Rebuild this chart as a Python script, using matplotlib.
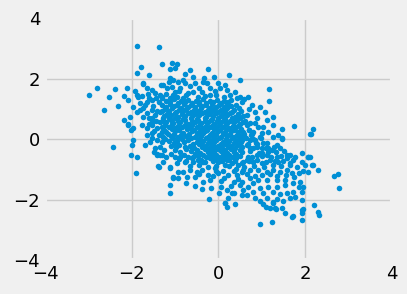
import numpy as np
import matplotlib
matplotlib.use('Agg')
import matplotlib.pyplot as plt

plt.style.use('fivethirtyeight')

# points, grouped by region (x, y)
edge_pts = [(-2.98, 1.45), (-2.79, 1.69), (-2.63, 0.97), (-2.52, 1.39), (-2.38, 1.65), (-2.31, 1.09),
            (-2.42, -0.25), (-2.10, 1.69), (-2.17, 0.64), (-2.09, 1.30), (-2.09, 0.51), (-2.02, 0.31),
            (-2.00, -0.20), (-1.98, -0.02), (-2.02, -0.53), (-1.88, -0.60), (-1.90, -1.12), (-1.87, 3.07),
            (-1.36, 3.04), (-1.88, 2.18), (-1.78, 2.40), (-1.59, 2.14), (-1.29, 2.48), (-1.06, 2.51),
            (-0.95, 2.48), (-1.92, 1.58), (-1.73, 1.85), (-1.11, -1.51), (-1.11, -1.79), (-1.39, -0.88),
            (-1.42, -0.48), (-1.12, -0.93), (-1.05, -1.23), (-0.92, -1.29), (-0.75, -1.45), (-0.55, -1.54),
            (-0.36, -1.40), (-0.18, -1.62), (-0.21, -1.98), (0.02, -1.79), (0.16, -2.09), (0.21, -2.25),
            (0.39, -2.14), (0.35, -1.76), (0.54, -1.84), (0.97, -2.80), (1.23, -2.74), (1.10, -2.23),
            (1.27, -2.09), (1.32, -2.31), (1.53, -2.45), (1.70, -2.56), (1.92, -2.67), (1.94, -2.45),
            (1.95, -2.30), (2.21, -2.17), (2.29, -2.40), (2.33, -2.50), (2.68, -1.21), (2.75, -1.15),
            (2.78, -1.62), (2.29, -1.01), (2.18, -0.85), (2.06, -0.60), (1.92, -0.46), (2.12, 0.18),
            (2.18, 0.34), (1.75, 0.44), (1.18, 1.65), (1.18, 1.28), (1.27, 0.73), (0.25, 2.13),
            (0.50, 1.96), (-0.25, 2.31), (-0.09, 2.07), (1.47, 0.00), (1.65, -0.52)]

upper_pts = [(-2.17, 1.42), (-1.88, 1.45), (-1.74, 1.82), (-1.65, 1.69), (-1.54, 1.63), (-1.46, 1.52),
             (-1.32, 1.80), (-1.35, 1.46), (-1.77, 1.43), (-1.59, 1.36), (-1.11, 2.32), (-1.00, 2.35),
             (-0.65, 2.29), (-0.77, 2.15), (-0.58, 2.07), (-0.32, 2.02), (-1.11, 2.02), (-1.04, 1.96),
             (-0.92, 1.90), (-0.82, 1.96), (-0.77, 1.85), (-0.54, 1.85), (-0.27, 1.85), (0.00, 1.85),
             (0.04, 1.69), (-0.08, 1.60), (-1.27, 1.80), (-1.19, 1.69), (-1.08, 1.74), (-1.00, 1.57),
             (-0.88, 1.69), (-0.96, 1.41), (-0.69, 1.52), (-0.58, 1.57), (-0.38, 1.55), (0.39, 1.55),
             (0.50, 1.41), (0.27, 1.46), (0.12, 1.41), (-0.19, 1.46), (-0.46, 1.41), (-0.81, 1.36),
             (-1.11, 1.36), (-1.31, 1.41), (0.69, 1.39), (0.59, 1.33), (-1.96, 1.08), (-2.04, 0.75),
             (-2.08, 0.47), (-1.98, 0.36), (-1.69, -0.19), (-1.58, -0.08), (-1.35, -0.24), (-1.48, -0.43),
             (-1.35, -0.52), (-1.88, 0.91), (-1.81, 0.97), (-1.73, 1.02), (-1.65, 0.86), (-1.54, 0.97),
             (-1.46, 0.80), (-1.35, 0.91), (-1.27, 0.69), (-1.61, 0.69), (-1.77, 0.47), (-1.65, 0.36),
             (-1.54, 0.47), (-1.42, 0.36), (-1.31, 0.42), (-1.54, 0.20), (-1.38, 0.14), (-1.27, 0.09),
             (-1.65, 0.14), (-1.81, 1.19), (-1.65, 1.24), (-1.54, 1.30), (-1.38, 1.24), (-1.31, 1.36),
             (-1.85, 1.41), (-1.54, 0.58), (-1.35, 0.58), (-1.42, -0.02), (-1.46, -0.30),
             (-1.5, 1.1), (-1.42, 0.95), (-1.52, 0.72), (-1.45, 0.6), (-1.6, 0.5), (-1.48, 0.28),
             (-1.3, 0.25), (-1.52, 0.05), (-1.3, -0.1), (-1.62, 1.5), (-1.45, 1.38), (-1.7, 1.12),
             (-1.75, 0.75), (-1.2, 1.5), (-1.05, 1.48), (-0.75, 1.45), (-0.3, 1.42), (-1.25, -0.35),
             (-1.2, -0.6), (-1.0, -0.6),
             (-0.45, 1.7), (-0.2, 1.68), (0.2, 1.62), (-0.65, 1.75), (-0.35, 1.88), (-1.15, 1.88),
             (0.15, 1.8), (-0.9, 1.6), (0.42, 1.35), (-0.05, 1.45)]

right_pts = [(0.54, 1.24), (0.77, 1.13), (0.96, 1.08), (1.08, 0.91), (1.12, 0.64), (1.04, 0.42),
             (1.27, 0.47), (1.46, 0.34), (2.14, 0.17), (1.38, 0.14), (1.46, 0.03), (1.27, 0.09),
             (1.15, 0.25), (0.92, 0.42), (0.89, 0.69), (0.65, 0.80), (0.58, 0.58), (0.73, 0.53),
             (0.58, 0.25), (0.81, 0.25), (0.96, 0.09), (0.73, -0.02), (1.12, -0.13), (1.35, -0.19),
             (1.42, -0.30), (1.23, -0.35), (1.00, -0.30), (0.81, -0.30), (0.65, -0.19), (1.58, -0.52),
             (1.77, -0.58), (2.08, -0.58), (1.35, -0.58), (1.12, -0.52), (0.89, -0.52), (0.69, -0.58),
             (0.85, -0.02), (0.7, 1.0), (0.85, 0.9), (0.7, 0.3), (0.85, 0.55), (1.0, 0.2),
             (1.15, -0.3), (1.0, -0.45), (0.6, 0.1), (0.75, 0.15), (0.9, -0.15)]

lower_left_pts = [(-1.42, -0.52), (-1.31, -0.52), (-1.38, -0.91), (-1.11, -0.96), (-1.04, -1.27),
                  (-0.92, -1.07), (-0.81, -1.07), (-0.19, -1.35), (-0.23, -1.18), (-0.73, -1.24),
                  (-0.65, -1.01), (-0.50, -1.07), (-0.38, -1.01), (-1.27, -0.74), (-0.96, -0.79),
                  (-0.77, -0.74), (-0.58, -0.74), (-0.35, -0.74), (-0.88, -0.58), (-0.58, -0.58),
                  (-0.08, -0.96), (0.12, -1.29), (0.19, -1.68), (0.23, -1.93), (0.15, -2.12),
                  (0.31, -1.79), (0.50, -1.51), (0.35, -1.40), (0.23, -1.18), (0.42, -1.18),
                  (0.54, -1.07), (0.00, -0.74), (0.15, -0.85), (0.31, -0.79), (0.46, -0.85),
                  (0.58, -0.74), (0.06, -1.57), (-0.38, -1.64),
                  (-0.12, -1.2), (0.05, -1.38), (0.3, -1.55), (-0.05, -1.05), (0.4, -0.98),
                  (-0.55, -1.25), (0.1, -1.05), (0.45, -1.32)]

lower_right_pts = [(0.54, -0.79), (0.58, -1.01), (0.54, -1.40), (0.58, -1.68), (0.67, -1.84), (0.81, -1.73),
                   (0.81, -1.45), (0.69, -1.57), (0.85, -1.95), (0.96, -2.04), (1.04, -2.15), (1.12, -1.95),
                   (1.19, -2.26), (1.27, -2.06), (1.31, -2.28), (1.46, -2.28), (1.72, -2.54), (1.92, -2.34),
                   (1.35, -1.98), (1.50, -2.03), (1.65, -1.95), (1.77, -1.90), (1.92, -2.01), (1.94, -1.75),
                   (1.85, -1.57), (1.96, -1.57), (1.73, -1.73), (1.58, -1.79), (1.42, -1.82), (1.27, -1.73),
                   (1.04, -1.79), (0.96, -1.62), (1.15, -1.57), (1.35, -1.57), (1.54, -1.51), (1.73, -1.45),
                   (1.88, -1.40), (1.54, -1.35), (1.35, -1.35), (1.12, -1.35), (0.92, -1.35), (0.73, -1.29),
                   (2.08, -1.07), (1.96, -1.05), (2.15, -0.85), (2.00, -0.85), (1.81, -0.91), (1.85, -1.12),
                   (1.69, -1.12), (1.58, -1.01), (1.42, -1.07), (1.27, -1.01), (1.12, -1.07), (0.92, -1.01),
                   (0.73, -1.01), (1.92, -0.74), (1.73, -0.68), (1.58, -0.63), (1.38, -0.74), (1.19, -0.68),
                   (1.00, -0.79), (0.81, -0.74), (0.65, -0.68), (2.12, -0.58)]

core_pts = [(-1.2, 1.28), (-1.02, 1.33), (-0.86, 1.27), (-0.7, 1.31), (-0.52, 1.26), (-0.36, 1.32),
            (-0.2, 1.27), (-0.04, 1.3), (0.12, 1.25), (0.3, 1.29),
            (-1.3, 1.14), (-1.12, 1.17), (-0.95, 1.12), (-0.79, 1.16), (-0.62, 1.13), (-0.45, 1.18),
            (-0.29, 1.12), (-0.14, 1.16), (0.02, 1.13), (0.2, 1.17), (0.4, 1.12),
            (-1.24, 0.99), (-1.06, 1.02), (-0.9, 0.97), (-0.74, 1.01), (-0.56, 0.98), (-0.4, 1.03),
            (-0.24, 0.97), (-0.09, 1.01), (0.06, 0.98), (0.21, 1.02), (0.36, 0.97),
            (-1.19, 0.84), (-1.01, 0.87), (-0.85, 0.82), (-0.69, 0.86), (-0.54, 0.83), (-0.38, 0.88),
            (-0.21, 0.83), (-0.05, 0.86), (0.1, 0.82), (0.26, 0.87), (0.45, 0.84),
            (-1.15, 0.69), (-0.99, 0.72), (-0.81, 0.67), (-0.64, 0.71), (-0.49, 0.68), (-0.31, 0.72),
            (-0.15, 0.67), (0.0, 0.71), (0.15, 0.68), (0.31, 0.72), (0.5, 0.69),
            (-1.2, 0.56), (-1.04, 0.53), (-0.89, 0.57), (-0.71, 0.52), (-0.55, 0.57), (-0.4, 0.53),
            (-0.24, 0.56), (-0.1, 0.52), (0.05, 0.57), (0.2, 0.53), (0.35, 0.56), (0.5, 0.52),
            (-1.15, 0.41), (-0.99, 0.38), (-0.84, 0.42), (-0.66, 0.37), (-0.5, 0.41), (-0.35, 0.38),
            (-0.19, 0.42), (-0.05, 0.37), (0.1, 0.41), (0.25, 0.38), (0.41, 0.42),
            (-1.2, 0.24), (-1.0, 0.27), (-0.81, 0.22), (-0.6, 0.26), (-0.45, 0.23), (-0.3, 0.27),
            (-0.14, 0.22), (0.0, 0.26), (0.15, 0.23), (0.3, 0.27), (0.46, 0.24),
            (-1.1, 0.11), (-0.94, 0.08), (-0.75, 0.12), (-0.55, 0.07), (-0.4, 0.11), (-0.25, 0.08),
            (-0.1, 0.12), (0.05, 0.07), (0.2, 0.11), (0.35, 0.08), (0.5, 0.12),
            (-1.15, -0.04), (-0.95, -0.07), (-0.7, -0.03), (-0.5, -0.08), (-0.35, -0.04), (-0.2, -0.07),
            (-0.05, -0.03), (0.1, -0.08), (0.25, -0.04), (0.4, -0.07), (0.55, -0.03),
            (-1.1, -0.21), (-0.9, -0.18), (-0.65, -0.22), (-0.45, -0.17), (-0.3, -0.21), (-0.15, -0.18),
            (0.0, -0.22), (0.15, -0.17), (0.3, -0.21), (0.45, -0.18),
            (-1.0, -0.36), (-0.75, -0.33), (-0.5, -0.37), (-0.3, -0.32), (-0.15, -0.36), (0.0, -0.33),
            (0.15, -0.37), (0.3, -0.32), (0.5, -0.36),
            (-1.1, -0.49), (-0.8, -0.52), (-0.55, -0.47), (-0.35, -0.51), (-0.2, -0.48), (-0.05, -0.52),
            (0.1, -0.47), (0.25, -0.51), (0.4, -0.48),
            (-0.9, -0.66), (-0.6, -0.63), (-0.4, -0.67), (-0.2, -0.62), (-0.05, -0.66), (0.1, -0.63),
            (0.25, -0.67), (0.4, -0.62)]

# second, staggered layer of the dense middle
core2_pts = [(-1.11, 1.22), (-0.94, 1.2), (-0.78, 1.23), (-0.61, 1.21), (-0.44, 1.24), (-0.28, 1.2),
             (-0.12, 1.23), (0.05, 1.21), (0.22, 1.24),
             (-1.21, 1.06), (-1.03, 1.09), (-0.87, 1.05), (-0.7, 1.08), (-0.53, 1.06), (-0.37, 1.09),
             (-0.2, 1.05), (-0.05, 1.08), (0.12, 1.06), (0.29, 1.09), (0.47, 1.05),
             (-1.3, 0.92), (-1.13, 0.94), (-0.97, 0.9), (-0.81, 0.93), (-0.64, 0.91), (-0.47, 0.95),
             (-0.31, 0.9), (-0.15, 0.93), (0.0, 0.91), (0.16, 0.94), (0.32, 0.9), (0.52, 0.93),
             (-1.26, 0.77), (-1.09, 0.79), (-0.92, 0.75), (-0.76, 0.78), (-0.6, 0.76), (-0.44, 0.8),
             (-0.28, 0.75), (-0.12, 0.78), (0.05, 0.76), (0.2, 0.79), (0.38, 0.75), (0.58, 0.78),
             (-1.28, 0.62), (-1.1, 0.64), (-0.93, 0.6), (-0.77, 0.63), (-0.61, 0.61), (-0.46, 0.65),
             (-0.3, 0.6), (-0.16, 0.63), (-0.02, 0.61), (0.12, 0.64), (0.27, 0.6), (0.43, 0.63), (0.62, 0.61),
             (-1.24, 0.47), (-1.08, 0.49), (-0.93, 0.45), (-0.76, 0.48), (-0.6, 0.46), (-0.43, 0.5),
             (-0.28, 0.45), (-0.13, 0.48), (0.02, 0.46), (0.17, 0.49), (0.33, 0.45), (0.48, 0.48), (0.66, 0.46),
             (-1.26, 0.32), (-1.08, 0.34), (-0.91, 0.3), (-0.73, 0.33), (-0.57, 0.31), (-0.41, 0.35),
             (-0.26, 0.3), (-0.11, 0.33), (0.04, 0.31), (0.2, 0.34), (0.36, 0.3), (0.53, 0.33), (0.7, 0.31),
             (-1.17, 0.17), (-1.02, 0.19), (-0.86, 0.15), (-0.68, 0.18), (-0.5, 0.16), (-0.35, 0.2),
             (-0.2, 0.15), (-0.05, 0.18), (0.1, 0.16), (0.26, 0.19), (0.42, 0.15), (0.6, 0.18), (0.78, 0.16),
             (-1.22, 0.02), (-1.04, 0.04), (-0.84, 0.0), (-0.62, 0.03), (-0.44, 0.01), (-0.28, 0.05),
             (-0.13, 0.0), (0.02, 0.03), (0.17, 0.01), (0.32, 0.04), (0.47, 0.0), (0.64, 0.03), (0.8, 0.01),
             (0.98, 0.04),
             (-1.02, -0.12), (-0.8, -0.1), (-0.58, -0.14), (-0.4, -0.11), (-0.25, -0.13), (-0.1, -0.09),
             (0.05, -0.14), (0.2, -0.11), (0.36, -0.13), (0.52, -0.1), (0.68, -0.14), (0.86, -0.11),
             (1.04, -0.13),
             (-0.98, -0.27), (-0.78, -0.25), (-0.56, -0.29), (-0.38, -0.26), (-0.22, -0.28), (-0.07, -0.24),
             (0.08, -0.29), (0.22, -0.26), (0.38, -0.28), (0.55, -0.25), (0.72, -0.29), (0.9, -0.26),
             (1.1, -0.28), (1.28, -0.25),
             (-0.88, -0.42), (-0.64, -0.4), (-0.42, -0.44), (-0.25, -0.41), (-0.1, -0.43), (0.05, -0.39),
             (0.2, -0.44), (0.36, -0.41), (0.55, -0.43), (0.74, -0.4), (0.94, -0.44), (1.14, -0.41),
             (1.32, -0.43), (1.52, -0.4),
             (-0.7, -0.57), (-0.48, -0.55), (-0.28, -0.59), (-0.12, -0.56), (0.02, -0.58), (0.18, -0.54),
             (0.33, -0.59), (0.5, -0.56), (0.78, -0.6), (1.0, -0.55), (1.22, -0.59), (1.45, -0.56),
             (-0.75, -0.72), (-0.48, -0.7), (-0.3, -0.74), (-0.12, -0.71), (0.08, -0.73), (0.2, -0.69),
             (0.38, -0.72), (0.7, -0.72), (0.9, -0.7), (1.1, -0.74), (1.3, -0.71), (1.5, -0.73), (1.65, -0.78),
             (-0.65, -0.88), (-0.45, -0.86), (-0.25, -0.9), (-0.05, -0.87), (0.25, -0.89), (0.6, -0.9),
             (0.82, -0.87), (1.05, -0.9), (1.25, -0.86), (1.45, -0.89), (1.65, -0.85),
             (-0.45, -1.15), (0.0, -1.12), (0.35, -1.05), (0.65, -1.15), (0.85, -1.2), (1.0, -1.18),
             (1.2, -1.15), (1.35, -1.22), (1.55, -1.18), (1.75, -1.25)]

ticks = [-4, -2, 0, 2, 4]

pts = np.array(edge_pts + upper_pts + right_pts + lower_left_pts + lower_right_pts
               + core_pts + core2_pts)

fig, ax = plt.subplots(figsize=(4.07, 2.94), dpi=100)
fig.subplots_adjust(left=0.1106, right=0.9624, bottom=0.1146, top=0.9378)
ax.scatter(pts[:, 0], pts[:, 1], s=16, color='#008fd5', linewidths=0)
ax.set_xlim(-4, 4)
ax.set_ylim(-4, 4)
ax.set_xticks(ticks)
ax.set_yticks(ticks)
ax.tick_params(labelsize=13)

fig.savefig('out.png', dpi=100)
